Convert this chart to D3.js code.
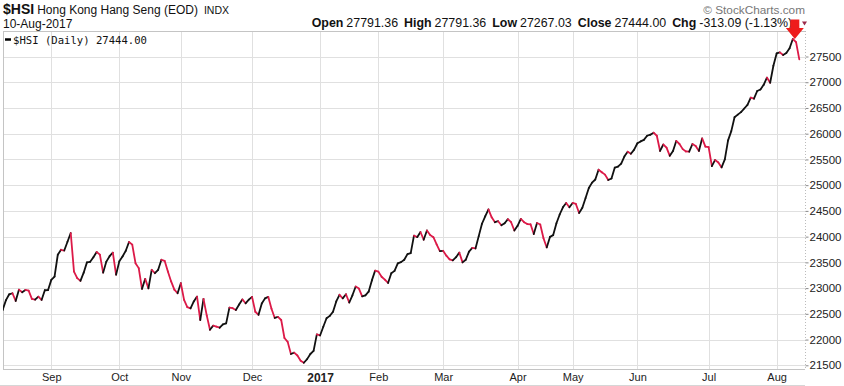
<!DOCTYPE html>
<html>
<head>
<meta charset="utf-8">
<script src="https://cdn.jsdelivr.net/npm/d3@7/dist/d3.min.js"></script>
<style>
body { margin: 0; background: #fff; }
svg { display: block; font-family: "Liberation Sans", Arial, sans-serif; }
</style>
</head>
<body>
<svg id="chart" width="844" height="386"></svg>
<script>
// daily closes, 10-Aug-2016 .. 10-Aug-2017 (one per trading day)
var closes = [
	22492, 22580, 22767, 22880, 22900, 22750, 22970, 22920, 22965, 22950,
	22790, 22775, 22835, 22770, 22958, 22962, 23160, 23225, 23648, 23745,
	23730, 23900, 24070, 23322, 23195, 23140, 23300, 23500, 23510, 23600,
	23700, 23650, 23300, 23515, 23620, 23690, 23260, 23520, 23615, 23725,
	23895, 23845, 23485, 23388, 22985, 23180, 22995, 23355, 23290, 23355,
	23550, 23530, 23322, 23130, 22970, 22900, 23095, 22770, 22630, 22605,
	22740, 22835, 22380, 22790, 22470, 22190, 22270, 22250, 22230, 22295,
	22315, 22620, 22610, 22575, 22680, 22780, 22705, 22775, 22830, 22540,
	22480, 22700, 22800, 22830, 22600, 22420, 22440, 22380, 22030, 21955,
	21720, 21745, 21690, 21590, 21550, 21620, 21720, 21780, 22100, 22080,
	22250, 22415, 22460, 22540, 22740, 22870, 22800, 22880, 22720, 22860,
	23030, 22990, 22840, 22860, 22930, 23150, 23340, 23320, 23220, 23165,
	23100, 23290, 23335, 23480, 23505, 23550, 23660, 23680, 24020, 23990,
	24090, 23940, 24120, 24030, 23990, 23850, 23720, 23725, 23630, 23560,
	23540, 23600, 23690, 23500, 23550, 23710, 23780, 23770, 24010, 24250,
	24395, 24530, 24375, 24280, 24300, 24220, 24260, 24340, 24280, 24120,
	24210, 24345, 24280, 24245, 24240, 24050, 24265, 24235, 23970, 23790,
	23995, 24030, 24260, 24430, 24570, 24655, 24570, 24655, 24635, 24460,
	24560, 24750, 24945, 25050, 25110, 25300, 25250, 25205, 25100, 25130,
	25340, 25360, 25420, 25560, 25650, 25610, 25690, 25815, 25850, 25880,
	25960, 25980, 26020, 25960, 25665, 25790, 25730, 25570, 25665, 25860,
	25800, 25700, 25655, 25650, 25800, 25760, 25665, 25910, 25750, 25740,
	25370, 25490, 25440, 25345, 25500, 25870, 26050, 26320, 26370, 26420,
	26490, 26560, 26700, 26680, 26830, 26860, 26950, 27090, 26990, 27320,
	27560, 27580, 27530, 27570, 27660, 27840, 27780, 27444
];

// trading-day index of the first session of each month
var monthStarts = [16, 37, 56, 78, 99, 117, 137, 160, 177, 197, 219, 240];
var monthLabels = ["Sep", "Oct", "Nov", "Dec", "2017", "Feb", "Mar", "Apr", "May", "Jun", "Jul", "Aug"];

var priceTicks = [21500, 22000, 22500, 23000, 23500, 24000, 24500, 25000, 25500, 26000, 26500, 27000, 27500];

var quoteLabels = ["Open", "High", "Low", "Close", "Chg"];
var quoteValues = ["27791.36", "27791.36", "27267.03", "27444.00", "-313.09 (-1.13%)"];

var symbol = "$HSI";
var symbolName = "Hong Kong Hang Seng (EOD)";
var exchange = "INDX";
var lastDate = "10-Aug-2017";
var legendText = "$HSI (Daily) 27444.00";

var plot = {left: 3, right: 805, top: 31, bottom: 369};
var upColor = "#111",
	downColor = "#dc1a48",
	gridColor = "#e0e0e0";

var svg = d3.select("#chart");

var x = d3.scaleLinear()
	.domain([0, closes.length - 1])
	.range([-0.5, 799.3]);

var y = d3.scaleLinear()
	.domain([21500, 27500])
	.range([365.3, 56.5]);

svg.append("defs").append("clipPath")
	.attr("id", "plotclip")
	.append("rect")
	.attr("x", plot.left)
	.attr("y", plot.top)
	.attr("width", plot.right - plot.left)
	.attr("height", plot.bottom - plot.top);

//grid
svg.append("g").selectAll("line")
	.data(priceTicks)
	.enter().append("line")
	.attr("x1", plot.left)
	.attr("x2", plot.right)
	.attr("y1", function(d) { return Math.round(y(d)) + 0.5; })
	.attr("y2", function(d) { return Math.round(y(d)) + 0.5; })
	.attr("stroke", gridColor);

svg.append("g").selectAll("line")
	.data(monthStarts)
	.enter().append("line")
	.attr("x1", function(d) { return Math.round(x(d)) + 0.5; })
	.attr("x2", function(d) { return Math.round(x(d)) + 0.5; })
	.attr("y1", plot.top)
	.attr("y2", plot.bottom)
	.attr("stroke", gridColor);

//frame
svg.append("line")
	.attr("x1", plot.left + 0.5).attr("x2", plot.left + 0.5)
	.attr("y1", plot.top).attr("y2", plot.bottom)
	.attr("stroke", "#c4c4c4");
svg.append("line")
	.attr("x1", plot.left).attr("x2", plot.right)
	.attr("y1", plot.top + 0.5).attr("y2", plot.top + 0.5)
	.attr("stroke", "#c4c4c4");
svg.append("line")
	.attr("x1", plot.left).attr("x2", plot.right)
	.attr("y1", plot.bottom + 0.5).attr("y2", plot.bottom + 0.5)
	.attr("stroke", "#c4c4c4");
svg.append("line")
	.attr("x1", 0).attr("x2", plot.right)
	.attr("y1", 385.5).attr("y2", 385.5)
	.attr("stroke", "#d6d6d6");

//price axis on the right
var yAxis = svg.append("g")
	.attr("transform", "translate(" + (plot.right + 0.5) + ",0)")
	.call(d3.axisRight(y)
		.tickValues(priceTicks)
		.tickSize(3)
		.tickPadding(1)
		.tickFormat(d3.format("d")));
yAxis.select(".domain").remove();
yAxis.selectAll(".tick line").attr("stroke", "#888");
yAxis.selectAll(".tick text")
	.attr("fill", "#222")
	.style("font-family", "'Liberation Sans', Arial, sans-serif")
	.style("font-size", "11.5px");

svg.append("line")
	.attr("x1", plot.right + 0.5).attr("x2", plot.right + 0.5)
	.attr("y1", plot.top).attr("y2", plot.bottom)
	.attr("stroke", "#bbb")
	.attr("stroke-dasharray", "1,2");

//month axis
var xAxis = svg.append("g")
	.attr("transform", "translate(0,369)")
	.call(d3.axisBottom(x)
		.tickValues(monthStarts)
		.tickSize(0)
		.tickPadding(4)
		.tickFormat(function(d, i) { return monthLabels[i]; }));
xAxis.select(".domain").remove();
xAxis.selectAll(".tick text")
	.attr("fill", "#222")
	.style("font-family", "'Liberation Sans', Arial, sans-serif")
	.style("font-weight", function(d, i) { return monthLabels[i] == "2017" ? "bold" : "normal"; })
	.style("font-size", function(d, i) { return monthLabels[i] == "2017" ? "12px" : "11px"; });

//price line, each day coloured by its change
var segments = d3.pairs(closes.map(function(v, i) { return {i: i, v: v}; }));

svg.append("g")
	.attr("clip-path", "url(#plotclip)")
	.selectAll("line")
	.data(segments)
	.enter().append("line")
	.attr("x1", function(d) { return x(d[0].i); })
	.attr("y1", function(d) { return y(d[0].v); })
	.attr("x2", function(d) { return x(d[1].i); })
	.attr("y2", function(d) { return y(d[1].v); })
	.attr("stroke", function(d) { return d[1].v < d[0].v ? downColor : upColor; })
	.attr("stroke-width", 1.8)
	.attr("stroke-linecap", "round");

//legend
svg.append("line")
	.attr("x1", 5).attr("x2", 11)
	.attr("y1", 39.5).attr("y2", 39.5)
	.attr("stroke", "#000")
	.attr("stroke-width", 2.5);
svg.append("text")
	.attr("x", 13)
	.attr("y", 43.5)
	.attr("fill", "#111")
	.style("font-family", "'DejaVu Sans Mono', monospace")
	.style("font-size", "10.6px")
	.text(legendText);

//header
var title = svg.append("text")
	.attr("x", 3)
	.attr("y", 14)
	.attr("fill", "#111");
title.append("tspan")
	.style("font-weight", "bold")
	.style("font-size", "14px")
	.text(symbol);
title.append("tspan")
	.attr("dx", 3)
	.style("font-size", "12px")
	.text(symbolName);
title.append("tspan")
	.attr("dx", 6)
	.style("font-size", "10.5px")
	.text(exchange);

svg.append("text")
	.attr("x", 3)
	.attr("y", 27.5)
	.attr("fill", "#111")
	.style("font-size", "12px")
	.text(lastDate);

var quote = svg.append("text")
	.attr("x", 311.7)
	.attr("y", 27)
	.attr("fill", "#111")
	.style("font-size", "12.4px");
quoteLabels.forEach(function(label, i) {
	quote.append("tspan")
		.attr("dx", i == 0 ? 0 : 6)
		.style("font-weight", "bold")
		.text(label);
	quote.append("tspan")
		.attr("dx", 3)
		.text(quoteValues[i]);
});

svg.append("text")
	.attr("x", 805)
	.attr("y", 13.5)
	.attr("text-anchor", "end")
	.attr("fill", "#777")
	.style("font-size", "11.8px")
	.text("\u00a9 StockCharts.com");

//last-day marker
svg.append("path")
	.attr("d", "M802,21.5 L807,21.5 L804.5,25.5 Z")
	.attr("fill", "#9a2a4a");

var arrowX = x(closes.length - 3) + 2;
svg.append("path")
	.attr("d", "M" + (arrowX - 4.5) + ",19.5 L" + (arrowX + 4.5) + ",19.5 L" + (arrowX + 4.5) + ",28 " +
		"L" + (arrowX + 9) + ",28 L" + arrowX + ",39 L" + (arrowX - 9) + ",28 L" + (arrowX - 4.5) + ",28 Z")
	.attr("fill", "#ee1c1c");
</script>
</body>
</html>
